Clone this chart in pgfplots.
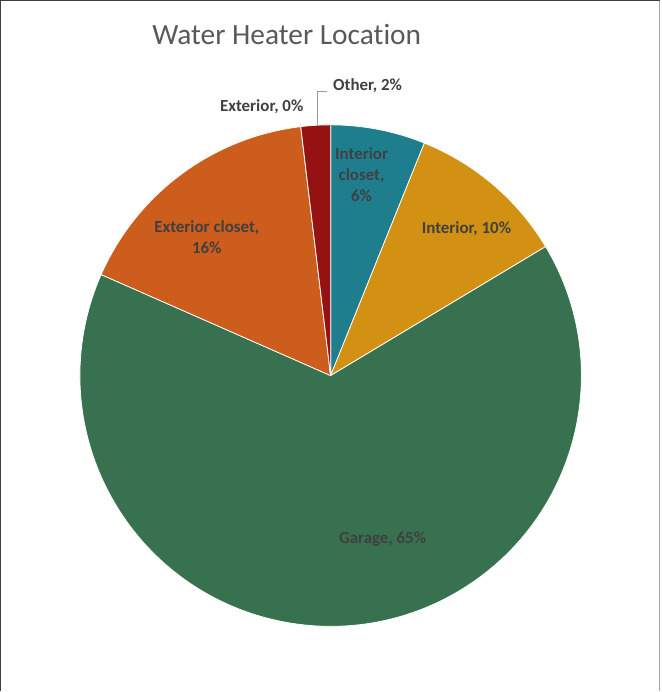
\documentclass[border=0pt]{standalone}
\usepackage{pgfplots}
\usepackage{pgfplotstable}
\pgfplotsset{compat=1.18}
\usepackage{fontspec}
\setmainfont[Ligatures=NoCommon]{Carlito}

\definecolor{cIntCl}{HTML}{1F7E8E}
\definecolor{cInt}{HTML}{D39114}
\definecolor{cGar}{HTML}{38714F}
\definecolor{cExtCl}{HTML}{CC5D1C}
\definecolor{cExt}{HTML}{7F7F7F}
\definecolor{cOth}{HTML}{961111}
\definecolor{labtext}{HTML}{404040}
\definecolor{titletext}{HTML}{595959}

% share of each slice in percent, clockwise from 12 o'clock
\pgfplotstableread[col sep=comma]{
slice,value,colour
Interior closet,6.1,cIntCl
Interior,10.3,cInt
Garage,65.2,cGar
Exterior closet,16.5,cExtCl
Exterior,0.0,cExt
Other,1.9,cOth
}\piedata

\begin{document}
\begin{tikzpicture}[x=1bp,y=1bp]
\begin{axis}[
    scale only axis,
    width=502bp, height=502bp,
    xmin=-1, xmax=1, ymin=-1, ymax=1,
    hide axis, clip=false,
]
% picture frame (1 unit = 251bp)
\path (axis cs:-1.3187,-1.2590) rectangle (axis cs:1.3147,1.4980);
\draw[black!75, line width=1.5bp] (axis cs:-1.3157,-1.2590) -- (axis cs:-1.3157,1.4950) -- (axis cs:1.3147,1.4950);
\draw[black!35, line width=1.5bp] (axis cs:1.3117,1.4950) -- (axis cs:1.3117,-1.2590);

\xdef\acc{90}
\pgfplotsinvokeforeach{0,...,5}{
  \pgfplotstablegetelem{#1}{value}\of\piedata \let\sliceval\pgfplotsretval
  \pgfplotstablegetelem{#1}{colour}\of\piedata \let\slicecol\pgfplotsretval
  \pgfmathsetmacro{\sliceend}{\acc-3.6*\sliceval}
  \edef\cmd{\noexpand\filldraw[fill=\slicecol, draw=white, line width=0.75bp]
    (axis cs:0,0) -- (axis cs:{cos(\acc)},{sin(\acc)})
    arc[start angle=\acc, end angle=\sliceend, radius=251bp] -- cycle;}
  \cmd
  \xdef\acc{\sliceend}
}

\node[text=titletext, font=\fontsize{29.5}{34}\selectfont] at (axis cs:-0.1753,1.3586) {Water Heater Location};

\begin{scope}[every node/.style={text=labtext, font=\fontsize{17}{21}\selectfont\bfseries, align=center}]
\node at (axis cs:0.1235,0.8008) {Interior\\closet,\\6\%};
\node at (axis cs:0.5418,0.5857) {Interior, 10\%};
\node at (axis cs:0.2072,-0.6534) {Garage, 65\%};
\node at (axis cs:-0.4940,0.5538) {Exterior closet,\\16\%};
\node at (axis cs:-0.2749,1.0717) {Exterior, 0\%};
\node at (axis cs:0.1474,1.1554) {Other, 2\%};
\end{scope}
\draw[black!40, line width=0.75bp] (axis cs:-0.0159,1.1355) -- (axis cs:-0.0518,1.1355) -- (axis cs:-0.0518,0.9960);
\end{axis}
\end{tikzpicture}
\end{document}
